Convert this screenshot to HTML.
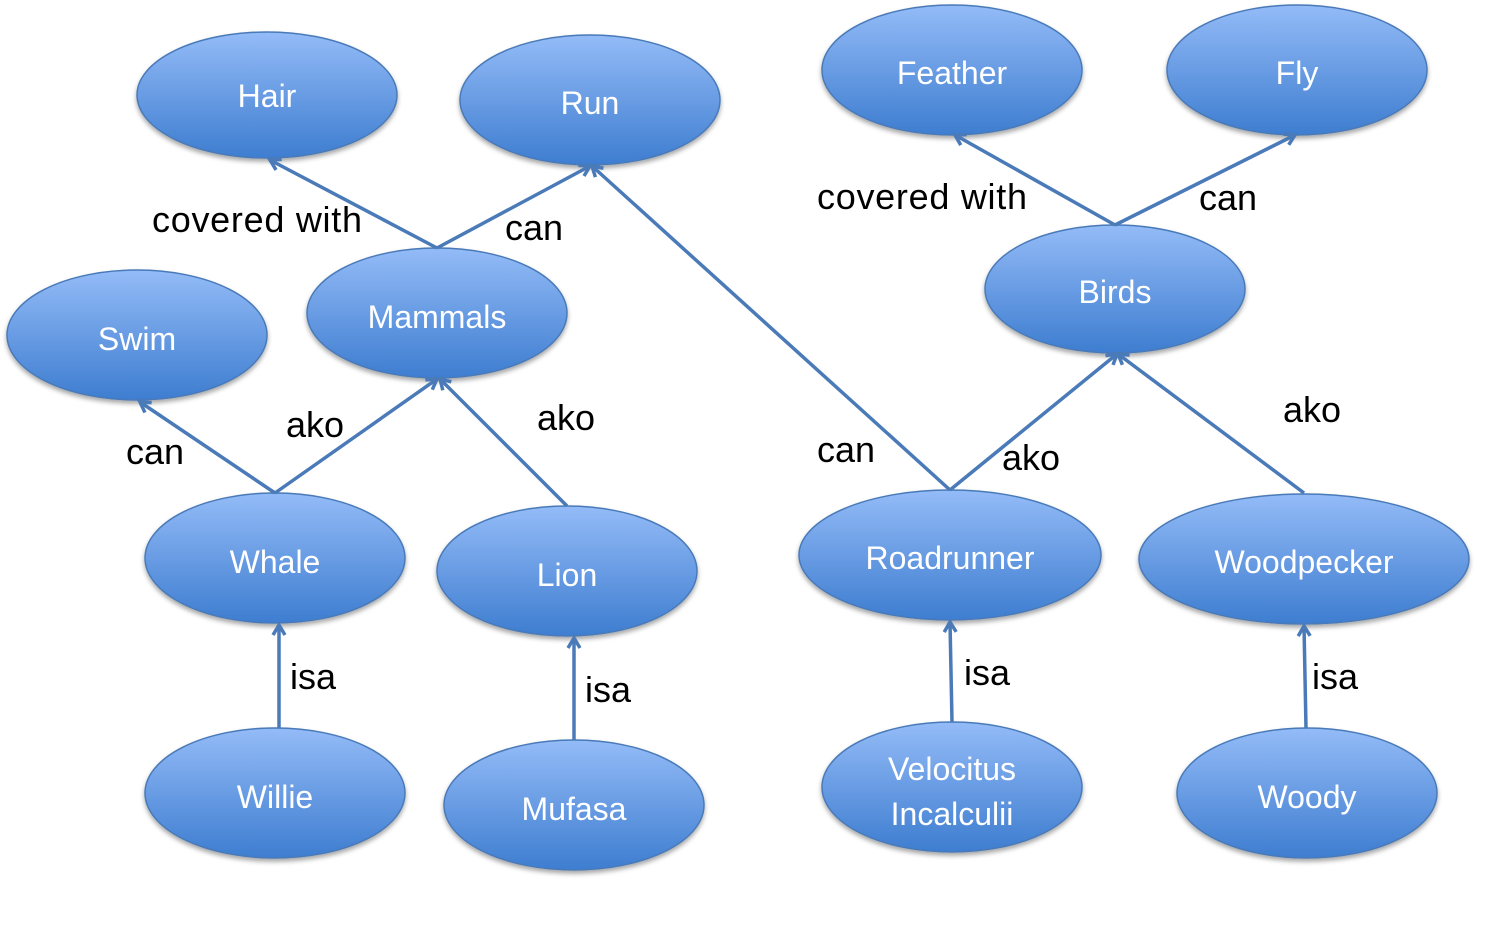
<!DOCTYPE html>
<html><head><meta charset="utf-8"><style>html,body{margin:0;padding:0;background:#fff}svg{display:block}</style></head><body>
<svg width="1488" height="946" viewBox="0 0 1488 946" xmlns="http://www.w3.org/2000/svg">
<defs>
<linearGradient id="g" x1="0" y1="0" x2="0" y2="1"><stop offset="0" stop-color="#93bbf7"/><stop offset="1" stop-color="#3e7dd0"/></linearGradient>
<filter id="s" x="-10%" y="-10%" width="120%" height="130%"><feDropShadow dx="0" dy="3" stdDeviation="2.5" flood-color="#000" flood-opacity="0.35"/></filter>
<marker id="a" markerWidth="16" markerHeight="16" refX="12" refY="8" orient="auto" markerUnits="userSpaceOnUse"><path d="M2,2 L12,8 L2,14" fill="none" stroke="#4a7ab8" stroke-width="3.5"/></marker>
</defs>
<g fill="url(#g)" stroke="#4a7ab8" stroke-width="1.5" filter="url(#s)">
<ellipse cx="267" cy="95" rx="130" ry="63"/>
<ellipse cx="590" cy="100" rx="130" ry="65"/>
<ellipse cx="952" cy="70" rx="130" ry="65"/>
<ellipse cx="1297" cy="70" rx="130" ry="65"/>
<ellipse cx="1115" cy="289" rx="130" ry="64"/>
<ellipse cx="437" cy="313" rx="130" ry="65"/>
<ellipse cx="137" cy="335" rx="130" ry="65"/>
<ellipse cx="275" cy="558" rx="130" ry="65"/>
<ellipse cx="567" cy="571" rx="130" ry="65"/>
<ellipse cx="950" cy="555" rx="151" ry="65"/>
<ellipse cx="1304" cy="559" rx="165" ry="65"/>
<ellipse cx="275" cy="793" rx="130" ry="65"/>
<ellipse cx="574" cy="805" rx="130" ry="65"/>
<ellipse cx="952" cy="787" rx="130" ry="65"/>
<ellipse cx="1307" cy="793" rx="130" ry="65"/>
</g>
<g stroke="#4a7ab8" stroke-width="3.5" fill="none" marker-end="url(#a)">
<line x1="437" y1="248" x2="270" y2="160"/>
<line x1="437" y1="248" x2="590" y2="166"/>
<line x1="275" y1="493" x2="140" y2="402"/>
<line x1="275" y1="493" x2="437" y2="379"/>
<line x1="567" y1="506" x2="440" y2="379"/>
<line x1="950" y1="490" x2="592" y2="166"/>
<line x1="950" y1="490" x2="1117" y2="354"/>
<line x1="1304" y1="493" x2="1118" y2="354"/>
<line x1="1115" y1="225" x2="955" y2="135"/>
<line x1="1115" y1="225" x2="1295" y2="135"/>
<line x1="279" y1="728" x2="279" y2="625"/>
<line x1="574" y1="740" x2="574" y2="638"/>
<line x1="952" y1="722" x2="950" y2="622"/>
<line x1="1306" y1="728" x2="1304" y2="626"/>
</g>
<g font-family="Liberation Sans, sans-serif" font-size="32" fill="#fff" text-anchor="middle">
<text x="267" y="107">Hair</text>
<text x="590" y="114">Run</text>
<text x="952" y="84">Feather</text>
<text x="1297" y="84">Fly</text>
<text x="1115" y="303">Birds</text>
<text x="437" y="328">Mammals</text>
<text x="137" y="350">Swim</text>
<text x="275" y="573">Whale</text>
<text x="567" y="586">Lion</text>
<text x="950" y="569">Roadrunner</text>
<text x="1304" y="573">Woodpecker</text>
<text x="275" y="808">Willie</text>
<text x="574" y="820">Mufasa</text>
<text x="952" y="780">Velocitus</text>
<text x="952" y="825">Incalculii</text>
<text x="1307" y="808">Woody</text>
</g>
<g font-family="Liberation Sans, sans-serif" font-size="36" fill="#000">
<text x="152" y="232" textLength="210">covered with</text>
<text x="505" y="240">can</text>
<text x="817" y="209" textLength="210">covered with</text>
<text x="1199" y="210">can</text>
<text x="126" y="464">can</text>
<text x="286" y="437">ako</text>
<text x="537" y="430">ako</text>
<text x="817" y="462">can</text>
<text x="1002" y="470">ako</text>
<text x="1283" y="422">ako</text>
<text x="290" y="689">isa</text>
<text x="585" y="702">isa</text>
<text x="964" y="685">isa</text>
<text x="1312" y="689">isa</text>
</g>
</svg>
</body></html>
